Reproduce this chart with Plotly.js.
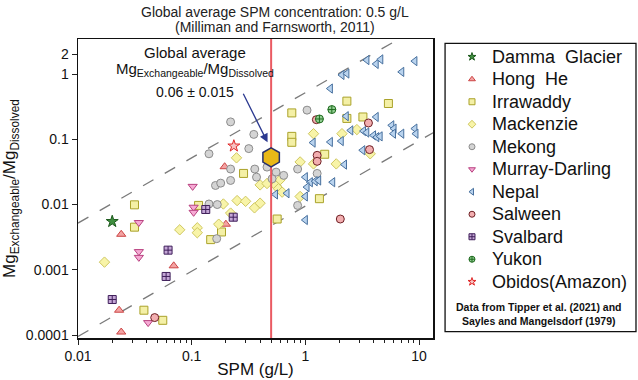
<!DOCTYPE html>
<html>
<head>
<meta charset="utf-8">
<script src="https://cdn.plot.ly/plotly-3.0.1.min.js"></script>
<style>html,body{margin:0;padding:0;background:#fff}#chart{width:638px;height:380px}</style>
</head>
<body>
<div id="chart"></div>
<script>
// ---- Data (SPM in g/L, Mg exchangeable / Mg dissolved) ----
const dammaX = [0.020];
const dammaY = [0.0055];

const hongheX = [0.024, 0.0695, 0.023, 0.024, 0.195, 0.20];
const hongheY = [0.0035, 0.00115, 0.00024, 0.000111, 0.038, 0.0050];

const irrawaddyX = [0.0314, 0.0314, 0.038, 0.0557, 0.115, 0.286, 0.147, 0.183, 0.76, 0.76, 0.76, 1.48, 1.33, 0.565, 2.32, 2.32, 3.21, 5.38];
const irrawaddyY = [0.0099, 0.0045, 0.00024, 0.000168, 0.0097, 0.030, 0.0029, 0.0038, 0.254, 0.111, 0.090, 0.059, 0.0123, 0.006, 0.385, 0.209, 0.22, 0.354];

const mackenzieX = [0.0171, 0.0785, 0.112, 0.112, 0.173, 0.19, 0.22, 0.251, 0.298, 0.357, 0.40, 0.248, 0.46, 0.40, 0.55, 0.60, 0.58, 0.625, 0.90, 1.18, 0.90, 1.18, 1.87, 2.10, 2.84, 3.72];
const mackenzieY = [0.00131, 0.0041, 0.0044, 0.0037, 0.0050, 0.0102, 0.0074, 0.0115, 0.0112, 0.0089, 0.0200, 0.052, 0.021, 0.0105, 0.0196, 0.024, 0.0175, 0.0155, 0.0133, 0.122, 0.045, 0.042, 0.042, 0.122, 0.141, 0.060];

const mekongX = [0.22, 0.352, 0.142, 0.318, 0.22, 0.359, 0.22, 0.162, 0.18, 0.372, 0.46, 0.142, 0.168, 0.166, 0.553, 0.645, 0.51, 0.855, 1.27, 0.855, 1.035];
const mekongY = [0.185, 0.119, 0.060, 0.072, 0.035, 0.035, 0.0234, 0.0196, 0.0213, 0.0263, 0.0375, 0.0102, 0.010, 0.0030, 0.0314, 0.028, 0.0248, 0.035, 0.030, 0.0097, 0.28];

const murrayX = [0.0343, 0.0343, 0.0343, 0.0414, 0.104, 0.104, 0.102];
const murrayY = [0.0053, 0.0019, 0.00155, 0.000155, 0.0091, 0.0076, 0.019];

const nepalX = [3.48, 4.2, 4.61, 9.2, 7.05, 2.1, 2.32, 1.66, 2.29, 4.2, 2.51, 1.17, 1.66, 2.07, 2.21, 1.0, 1.107, 1.22, 1.31, 1.035, 1.74, 0.546, 0.69, 1.0, 1.0, 3.25, 3.47, 3.98, 4.25, 4.55, 5.76, 6.03, 5.96, 7.05, 9.2, 9.4, 3.2];
const nepalY = [1.64, 1.43, 1.68, 1.58, 1.08, 0.97, 1.02, 0.60, 0.226, 0.22, 0.137, 0.089, 0.091, 0.094, 0.041, 0.0263, 0.022, 0.0228, 0.0234, 0.0185, 0.022, 0.0143, 0.0149, 0.0133, 0.0058, 0.134, 0.127, 0.115, 0.108, 0.111, 0.164, 0.146, 0.122, 0.122, 0.146, 0.122, 0.068];

const salweenX = [1.27, 1.27, 1.25, 2.03, 3.59, 3.67, 0.0473];
const salweenY = [0.0568, 0.046, 0.20, 0.006, 0.178, 0.0695, 0.000185];

const svalbardX = [0.062, 0.0596, 0.020, 0.133, 0.232];
const svalbardY = [0.0020, 0.00079, 0.00035, 0.0084, 0.0064];

const yukonX = [1.33, 1.71];
const yukonY = [0.205, 0.286];

const obidosX = [0.235];
const obidosY = [0.079];

// Global averages
const globalSPM = [0.5];
const globalRatio = [0.053];
// Reference lines (end points)
const refLineX = [0.01, 13.3];
const upperLineY = [0.0052, 6.9];
const lowerLineY = [0.000095, 0.126];
const yExtent = [0.00009, 3.45];

// Tick labels
const xTickVals = [0.01, 0.1, 1, 10];
const xTickText = ['0.01', '0.1', '1', '10'];
const yTickVals = [0.0001, 0.001, 0.01, 0.1, 1, 2];
const yTickText = ['0.0001', '0.001', '0.01', '0.1', '1', '2'];

// ---- Styles ----
const series = [
  {name: 'Damma\u00A0 Glacier', x: dammaX, y: dammaY, symbol: 'star', fill: '#3f8f3f', line: '#1d5a1d'},
  {name: 'Hong\u00A0 He', x: hongheX, y: hongheY, symbol: 'triangle-up', fill: '#f3a3a3', line: '#cc4444'},
  {name: 'Irrawaddy', x: irrawaddyX, y: irrawaddyY, symbol: 'square', fill: '#f4f0a6', line: '#aaa22a'},
  {name: 'Mackenzie', x: mackenzieX, y: mackenzieY, symbol: 'diamond', fill: '#f8f4a8', line: '#cfc760'},
  {name: 'Mekong', x: mekongX, y: mekongY, symbol: 'circle', fill: '#d4d4d4', line: '#8c8c8c'},
  {name: 'Murray-Darling', x: murrayX, y: murrayY, symbol: 'triangle-down', fill: '#f6aad4', line: '#b8407f'},
  {name: 'Nepal', x: nepalX, y: nepalY, symbol: 'triangle-left', fill: '#b9d3ee', line: '#47709e'},
  {name: 'Salween', x: salweenX, y: salweenY, symbol: 'circle', fill: '#f2aeb0', line: '#6e2024'},
  {name: 'Svalbard', x: svalbardX, y: svalbardY, symbol: 'square-cross', fill: '#c4a6d6', line: '#3f1f5a'},
  {name: 'Yukon', x: yukonX, y: yukonY, symbol: 'circle-cross', fill: '#93cf93', line: '#1f6a1f'},
  {name: 'Obidos(Amazon)', x: obidosX, y: obidosY, symbol: 'star', fill: '#f7c4c4', line: '#e02828'}
];

const traces = [];
// dashed reference lines
traces.push({x: refLineX, y: upperLineY, mode: 'lines', line: {color: '#7a7a7a', width: 1.3, dash: '12px,13px'}, showlegend: false, hoverinfo: 'skip'});
traces.push({x: refLineX, y: lowerLineY, mode: 'lines', line: {color: '#7a7a7a', width: 1.3, dash: '12px,13px'}, showlegend: false, hoverinfo: 'skip'});

series.forEach(s => {
  const sz = s.symbol === 'star' ? 9 : 8;
  traces.push({x: s.x, y: s.y, mode: 'markers', type: 'scatter', name: s.name, showlegend: false,
    marker: {symbol: s.symbol, size: sz, color: s.fill, line: {color: s.line, width: 1}}});
});
// legend-only entries (small symbols like the reference)
series.forEach(s => {
  traces.push({x: [null], y: [null], mode: 'markers', type: 'scatter',
    name: '<span style="font-size:18px">' + s.name + '</span>', showlegend: true,
    marker: {symbol: s.symbol, size: 6, color: s.fill, line: {color: s.line, width: 1}}});
});
// red global SPM line
traces.push({x: [globalSPM[0], globalSPM[0]], y: yExtent, mode: 'lines', line: {color: '#ea5a62', width: 2}, showlegend: false, hoverinfo: 'skip'});
// global average hexagon
traces.push({x: globalSPM, y: globalRatio, mode: 'markers', showlegend: false,
  marker: {symbol: 'hexagon', size: 19, color: '#e9b817', line: {color: '#27306a', width: 1.5}}});

const minorX = [];
for (let k = -2; k <= 1; k++) for (let m = 2; m <= 9; m++) minorX.push(m * Math.pow(10, k));

const ff = 'Liberation Sans, Arial, sans-serif';
const layout = {
  width: 638, height: 380,
  margin: {l: 78, r: 205, t: 39, b: 42, autoexpand: false},
  paper_bgcolor: '#fff', plot_bgcolor: '#fff',
  font: {family: ff, color: '#111'},
  showlegend: true,
  xaxis: {
    type: 'log', range: [-2.0, 1.123], tickvals: xTickVals, ticktext: xTickText,
    ticks: 'outside', ticklen: 5, tickwidth: 1, tickcolor: '#222',
    showgrid: false, zeroline: false, showline: true, mirror: true, linecolor: '#111', linewidth: 1.5,
    tickfont: {size: 14, color: '#111'}, automargin: false,
    title: {text: 'SPM (g/L)', font: {size: 17, color: '#111'}, standoff: 0},
    minor: {tickvals: minorX, ticks: 'outside', ticklen: 3, tickcolor: '#222', showgrid: false}
  },
  yaxis: {
    type: 'log', range: [Math.log10(0.00009), Math.log10(3.45)], tickvals: yTickVals, ticktext: yTickText,
    ticks: 'outside', ticklen: 5, tickwidth: 1, tickcolor: '#222',
    showgrid: false, zeroline: false, showline: true, mirror: true, linecolor: '#111', linewidth: 1.5,
    tickfont: {size: 14, color: '#111'}, automargin: false,
    title: {text: 'Mg<sub>Exchangeable</sub>/Mg<sub>Dissolved</sub>', font: {size: 17, color: '#111'}, standoff: 6}
  },
  legend: {x: 1.0535, xanchor: 'left', y: 0.995, yanchor: 'top', font: {size: 15, family: ff, color: '#111'},
    bgcolor: 'rgba(0,0,0,0)', borderwidth: 0, tracegroupgap: 0, itemsizing: 'trace'},
  shapes: [
    {type: 'rect', xref: 'paper', yref: 'paper', x0: 1.034, x1: 1.5718, y0: 0.021, y1: 0.9856, line: {color: '#111', width: 1.3}, fillcolor: 'rgba(0,0,0,0)'}
  ],
  annotations: [
    {xref: 'paper', yref: 'paper', x: 0.555, y: 1.090, text: 'Global average SPM concentration: 0.5 g/L', showarrow: false, font: {size: 14, color: '#222'}, xanchor: 'center', yanchor: 'middle'},
    {xref: 'paper', yref: 'paper', x: 0.555, y: 1.040, text: '(Milliman and Farnsworth, 2011)', showarrow: false, font: {size: 14, color: '#222'}, xanchor: 'center', yanchor: 'middle'},
    {xref: 'paper', yref: 'paper', x: 0.3296, y: 0.955, text: 'Global average', showarrow: false, font: {size: 15, color: '#111'}, xanchor: 'center', yanchor: 'middle'},
    {xref: 'paper', yref: 'paper', x: 0.3296, y: 0.898, text: 'Mg<sub>Exchangeable</sub>/Mg<sub>Dissolved</sub>', showarrow: false, font: {size: 15, color: '#111'}, xanchor: 'center', yanchor: 'middle'},
    {xref: 'paper', yref: 'paper', x: 0.3296, y: 0.822, text: '0.06 ± 0.015', showarrow: false, font: {size: 14, color: '#111'}, xanchor: 'center', yanchor: 'middle'},
    {xref: 'x', yref: 'y', x: Math.log10(0.465), y: Math.log10(0.09), text: '', showarrow: true, ax: -25, ay: -50,
      arrowcolor: '#2b3990', arrowwidth: 1.3, arrowhead: 2, arrowsize: 1.3},
    {xref: 'paper', yref: 'paper', x: 1.2986, y: 0.0803, text: '<b>Data from Tipper et al. (2021) and</b><br><b>Sayles and Mangelsdorf (1979)</b>', showarrow: false, font: {size: 10.5, color: '#111'}, xanchor: 'center', yanchor: 'middle', align: 'center'}
  ]
};

Plotly.newPlot('chart', traces, layout, {displayModeBar: false, staticPlot: true});
</script>
</body>
</html>
